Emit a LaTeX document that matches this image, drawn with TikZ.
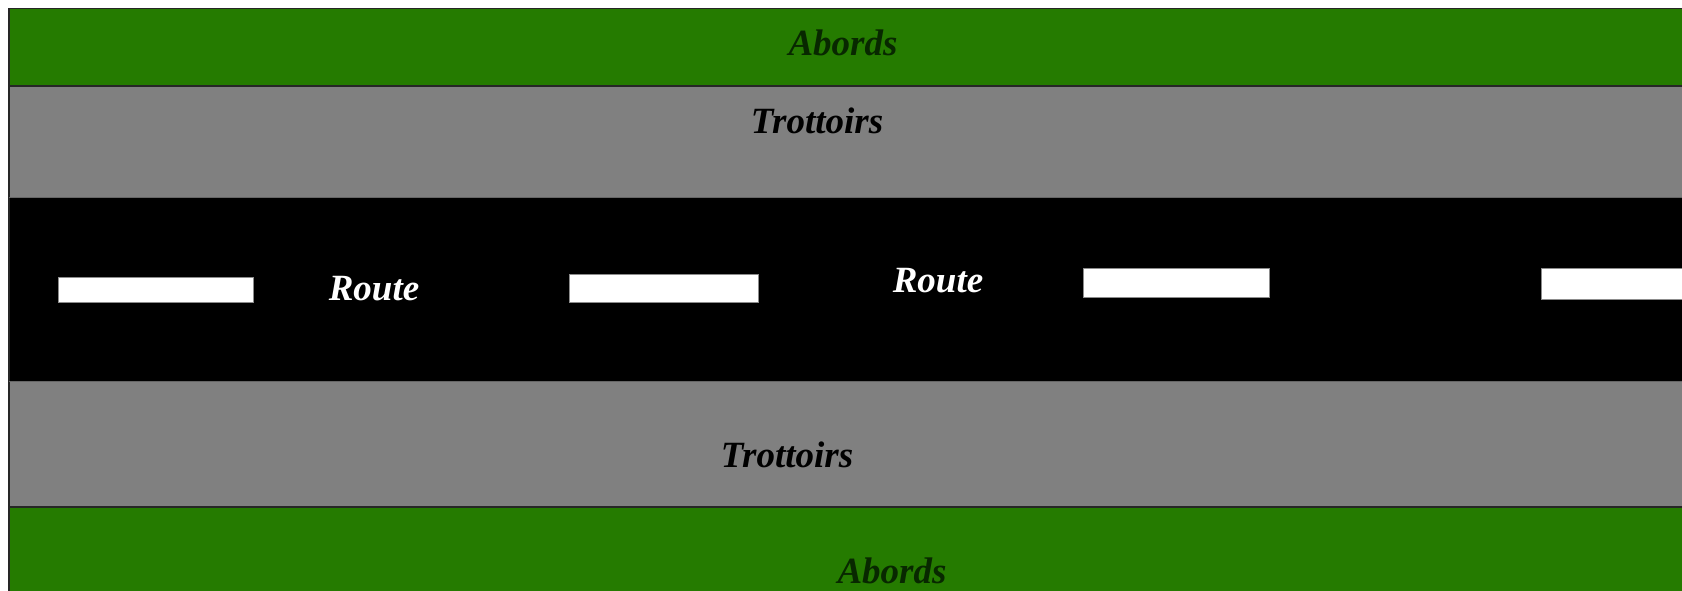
\documentclass[tikz,border=0pt]{standalone}
\usepackage{fontspec}
\setmainfont{Liberation Serif}
\definecolor{grass}{RGB}{37,123,0}
\definecolor{walk}{RGB}{128,128,128}
\definecolor{grasstext}{RGB}{8,40,0}
\tikzset{
  band/.style={draw=black!85, line width=1.5pt},
  dashmark/.style={fill=white, draw=black!45!white, line width=1pt},
  lbl/.style={anchor=base, inner sep=0pt, font=\fontsize{37}{40}\selectfont\bfseries\itshape}
}
\begin{document}
\begin{tikzpicture}[x=1pt,y=-1pt]
\useasboundingbox (0,0) rectangle (1682,590);
\fill[white] (0,0) rectangle (1682,590);
% bands
\fill[grass] (9,8) rectangle (1682,86);
\fill[walk] (9,86) rectangle (1682,197);
\fill[black] (9,197) rectangle (1682,381);
\fill[walk] (9,381) rectangle (1682,507);
\fill[grass] (9,507) rectangle (1682,592);
\draw[band] (9,8.5) -- (1682,8.5);
\draw[band] (9,8) -- (9,592);
\draw[draw=black!85, line width=2.5pt] (9,86) -- (1682,86);
\draw[draw=black!60, line width=1pt] (9,197) -- (1682,197);
\draw[draw=black!60, line width=1pt] (9,381) -- (1682,381);
\draw[draw=black!85, line width=2.5pt] (9,507) -- (1682,507);
% lane marks
\draw[dashmark] (58,277) rectangle (253,302);
\draw[dashmark] (569,274) rectangle (758,302);
\draw[dashmark] (1083,268) rectangle (1269,297);
\draw[dashmark] (1541,268) rectangle (1700,299);
% labels
\node[lbl, text=grasstext] (abordsT) at (843,55) {Abords};
\node[lbl] (trotT) at (817,133) {Trottoirs};
\node[lbl, text=white] (route1) at (374,300) {Route};
\node[lbl, text=white] (route2) at (938,292) {Route};
\node[lbl] (trotB) at (787,467) {Trottoirs};
\node[lbl, text=grasstext] (abordsB) at (892,583) {Abords};
\end{tikzpicture}
\end{document}
